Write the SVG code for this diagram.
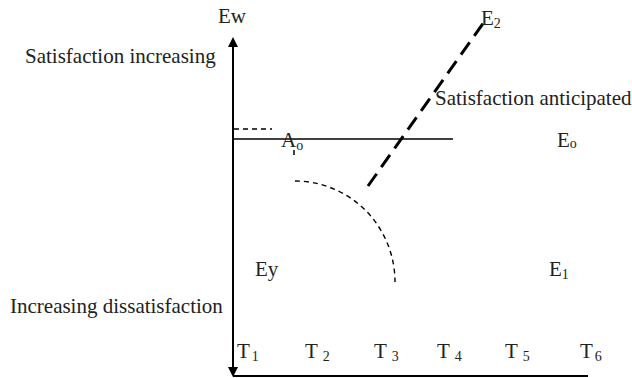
<svg xmlns="http://www.w3.org/2000/svg" width="632" height="378" viewBox="0 0 632 378">
<defs>
<marker id="ah" markerWidth="10" markerHeight="10" refX="5" refY="5" orient="auto" markerUnits="userSpaceOnUse"><path d="M0,0 L10,5 L0,10 z" fill="#000"/></marker>
<style>
text{font-family:"Liberation Serif","Times New Roman",serif;font-size:21px;fill:#222}
.sub{font-size:14px}
.ax{stroke:#000;stroke-width:2;fill:none}
.thin{stroke:#000;stroke-width:1.5;fill:none}
.dash{stroke:#000;stroke-width:1.4;stroke-dasharray:5,4;fill:none}
.bigdash{stroke:#000;stroke-width:3;stroke-dasharray:15,8;fill:none}
</style>
</defs>
<rect width="632" height="378" fill="#fff"/>
<g id="connectors">
<line class="ax" x1="233" y1="130" x2="233" y2="42" marker-end="url(#ah)"/>
<line class="ax" x1="233" y1="130" x2="233" y2="372" marker-end="url(#ah)"/>
<line class="ax" x1="233" y1="376" x2="588" y2="376"/>
<line class="thin" x1="233" y1="139" x2="453" y2="139"/>
<line class="dash" x1="234" y1="129" x2="272" y2="129"/>
<line class="bigdash" x1="368" y1="186" x2="484" y2="22"/>
<path class="dash" d="M295,181 A100,101 0 0 1 395,282"/>
<line class="thin" x1="294" y1="150" x2="294" y2="155"/>
</g>
<g id="labels">
<text x="232" y="23" text-anchor="middle">Ew</text>
<text x="25" y="63">Satisfaction increasing</text>
<text x="435" y="105">Satisfaction anticipated</text>
<text x="10" y="313">Increasing dissatisfaction</text>
<text x="281" y="147">A<tspan class="sub" dy="3">o</tspan></text>
<text x="557" y="147">E<tspan class="sub" dy="1">o</tspan></text>
<text x="481" y="25">E<tspan class="sub" dy="3">2</tspan></text>
<text x="255" y="276">Ey</text>
<text x="549" y="276">E<tspan class="sub" dy="3">1</tspan></text>
</g>
<g id="time-labels">
<text x="237" y="358">T<tspan class="sub" dx="2" dy="3">1</tspan></text>
<text x="305" y="358">T<tspan class="sub" dx="5" dy="3">2</tspan></text>
<text x="374" y="358">T<tspan class="sub" dx="5" dy="3">3</tspan></text>
<text x="437" y="358">T<tspan class="sub" dx="5" dy="3">4</tspan></text>
<text x="505" y="358">T<tspan class="sub" dx="5" dy="3">5</tspan></text>
<text x="580" y="358">T<tspan class="sub" dx="2" dy="3">6</tspan></text>
</g>
</svg>
